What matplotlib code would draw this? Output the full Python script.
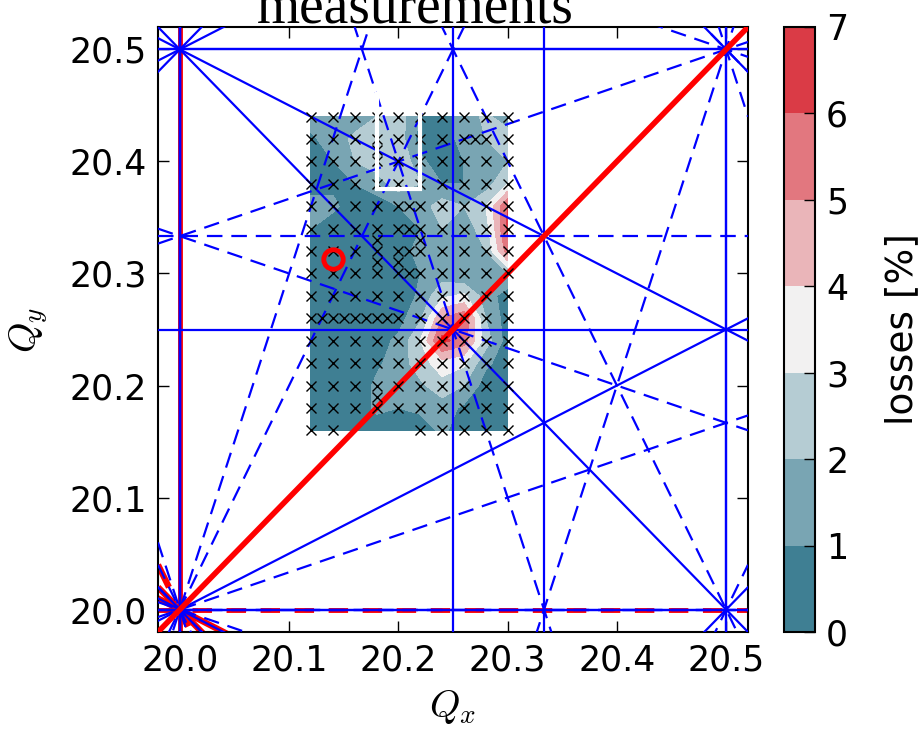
import numpy as np
import matplotlib
matplotlib.use('Agg')
import matplotlib.pyplot as plt
import seaborn as sns
from matplotlib.colors import ListedColormap
from matplotlib.patches import Rectangle

plt.rcParams['mathtext.fontset'] = 'cm'

# measurement grid
qx_grid = [20.12, 20.14, 20.16, 20.18, 20.20, 20.22, 20.24, 20.26, 20.28, 20.30]
qy_grid = [20.44, 20.42, 20.40, 20.38, 20.36, 20.34, 20.32, 20.30,
           20.28, 20.26, 20.24, 20.22, 20.20, 20.18, 20.16]

# losses [%], rows follow qy_grid (top to bottom), columns follow qx_grid
losses = [
    [1.5, 1.2, 1.5, 2.0, 2.5, 1.0, 0.5, 1.5, 2.2, 1.5],
    [0.8, 1.5, 2.2, 2.5, 2.6, 0.5, 0.3, 1.5, 2.0, 2.5],
    [0.5, 1.0, 2.0, 2.5, 3.0, 1.2, 0.5, 1.0, 1.5, 2.0],
    [0.5, 0.8, 1.0, 1.5, 2.5, 2.0, 1.0, 1.0, 1.5, 3.0],
    [1.5, 1.2, 0.5, 0.5, 1.0, 1.5, 2.5, 2.0, 3.0, 6.0],
    [1.0, 0.5, 0.3, 0.3, 0.5, 1.0, 2.0, 1.5, 2.5, 6.2],
    [0.5, 0.5, 0.3, 0.3, 0.3, 1.5, 2.0, 1.5, 2.0, 5.5],
    [0.5, 0.5, 0.3, 0.5, 0.3, 1.0, 1.5, 1.0, 1.0, 2.0],
    [0.3, 0.3, 0.3, 0.3, 0.3, 1.2, 2.8, 3.2, 1.5, 0.5],
    [0.3, 0.3, 0.3, 0.3, 0.6, 1.8, 5.0, 5.8, 2.0, 0.5],
    [0.3, 0.3, 0.3, 0.6, 1.2, 3.0, 6.3, 5.5, 2.5, 0.5],
    [0.3, 0.3, 0.3, 0.8, 1.5, 2.5, 3.6, 3.2, 1.2, 0.5],
    [0.3, 0.3, 0.3, 1.2, 1.5, 1.8, 2.6, 2.0, 0.5, 0.5],
    [0.3, 0.3, 0.3, 1.2, 1.0, 1.2, 1.5, 0.8, 0.5, 0.5],
    [0.3, 0.3, 0.5, 0.5, 0.3, 0.5, 1.2, 0.5, 0.5, 0.5],
]

# extra measured points and grid points that were skipped
extra_qx = [20.13, 20.15, 20.17, 20.19, 20.21, 20.21, 20.21, 20.21, 20.18, 20.22,
            20.18, 20.20, 20.18, 20.27, 20.18]
extra_qy = [20.26, 20.26, 20.26, 20.26, 20.30, 20.32, 20.34, 20.36, 20.33, 20.33,
            20.31, 20.31, 20.19, 20.42, 20.41]
skip_qx = [20.16, 20.18, 20.20]
skip_qy = [20.16, 20.16, 20.16]

working_point = (20.14, 20.3125)
box_qx = (20.18, 20.22)
box_qy = (20.375, 20.46)

xlim = (19.98, 20.52)
ylim = (19.98, 20.52)

fig = plt.figure(figsize=(9.23, 7.29), dpi=100)
ax = fig.add_axes([158 / 923, 97 / 729, 590 / 923, 605 / 729])
cax = fig.add_axes([784 / 923, 97 / 729, 31 / 923, 605 / 729])

cmap = ListedColormap(sns.diverging_palette(220, 10, n=7))
QX, QY = np.meshgrid(qx_grid, qy_grid)
cs = ax.contourf(QX, QY, np.array(losses), levels=range(8), cmap=cmap, zorder=1)


def res_line(m, n, p, **kw):
    if n == 0:
        ax.axvline(p / m, **kw)
    else:
        xs = np.array(xlim)
        ax.plot(xs, (p - m * xs) / n, **kw)


# highlighted lines through the integer tune
for m, n in [(1, 0), (0, 1), (1, 1), (2, 1), (1, 2)]:
    ls = (0, (4, 3)) if n % 2 else '-'
    res_line(m, n, 20 * (m + n), color='red', lw=4.5 if m + n > 1 else 3.5,
             ls=ls, zorder=2)

# resonance lines up to 4th order
for order in range(1, 5):
    for m in range(0, order + 1):
        nn = order - m
        for n in ([nn, -nn] if m > 0 and nn > 0 else [nn]):
            c = [m * x + n * y for x in xlim for y in ylim]
            for p in range(int(np.floor(min(c))), int(np.ceil(max(c))) + 1):
                ls = (0, (7, 4)) if n % 2 else '-'
                res_line(m, n, p, color='blue', lw=1.6, ls=ls, zorder=3)

res_line(1, -1, 0, color='red', lw=4, zorder=4)

pts = [(x, y) for y in qy_grid for x in qx_grid
       if not any(abs(x - a) < 1e-6 and abs(y - b) < 1e-6 for a, b in zip(skip_qx, skip_qy))]
pts += list(zip(extra_qx, extra_qy))
ax.plot([p[0] for p in pts], [p[1] for p in pts], 'kx', ms=6.5, mew=1, zorder=5)

ax.add_patch(Rectangle((box_qx[0], box_qy[0]), box_qx[1] - box_qx[0], box_qy[1] - box_qy[0],
                       fill=False, ec='white', lw=3, zorder=6))
ax.plot(*working_point, 'o', mfc='none', mec='red', ms=14, mew=3.5, zorder=6)

ax.set_xlim(xlim)
ax.set_ylim(ylim)
ax.set_xticks([20.0, 20.1, 20.2, 20.3, 20.4, 20.5])
ax.set_yticks([20.0, 20.1, 20.2, 20.3, 20.4, 20.5])
ax.tick_params(direction='in', top=True, right=True, length=8, width=1,
               labelsize=25, pad=8)
for s in ax.spines.values():
    s.set_linewidth(1.5)
ax.set_xlabel('$Q_x$', fontsize=28, labelpad=8)
ax.set_ylabel('$Q_y$', fontsize=28, labelpad=14)

cb = fig.colorbar(cs, cax=cax, ticks=range(8))
cb.ax.tick_params(direction='in', length=8, width=1, labelsize=25, pad=8)
cb.outline.set_linewidth(1.5)
cb.set_label('losses [%]', fontsize=27, labelpad=26)

fig.text(415 / 923, 1 - 23 / 729, 'measurements', fontsize=40,
         family='Liberation Serif', ha='center', va='baseline')

fig.savefig('out.png', dpi=100)
